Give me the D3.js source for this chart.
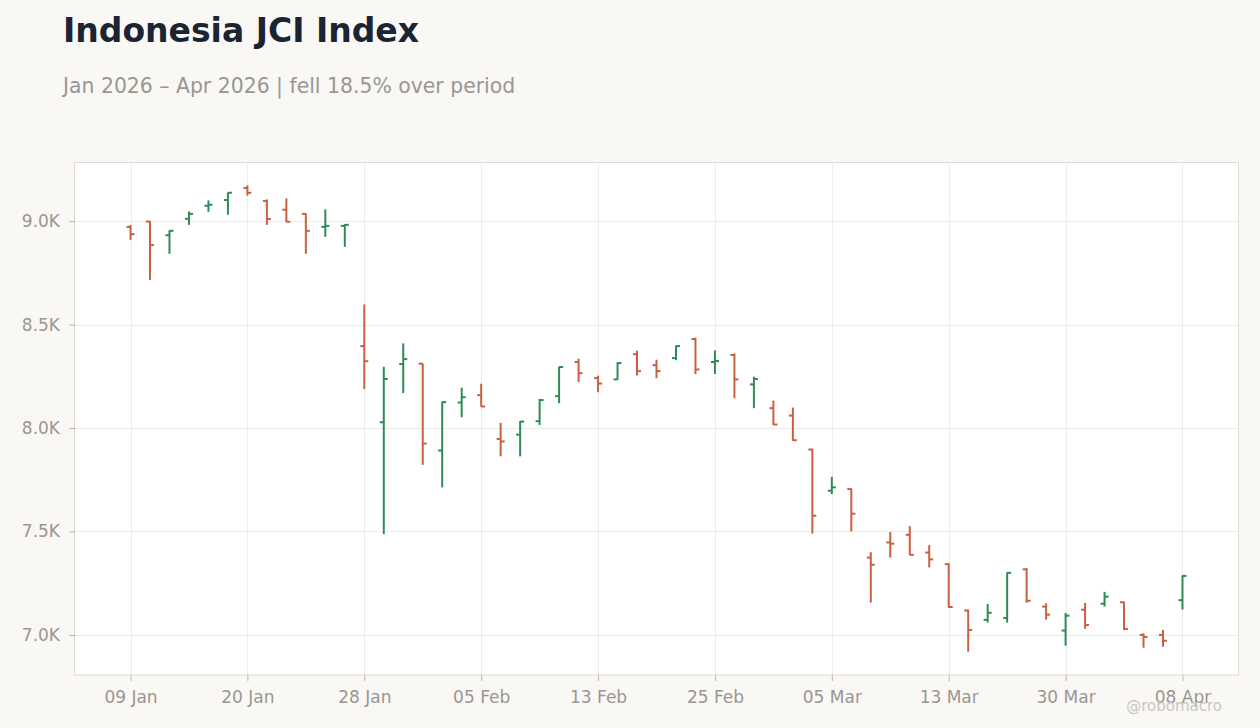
<!DOCTYPE html>
<meta charset="utf-8">
<style>
body {margin:0; background:#f9f8f5; font-family:'DejaVu Sans',sans-serif;}
.axis text {fill:#9a9691; font-size:17px; font-family:'DejaVu Sans',sans-serif;}
.axis line {stroke:#bdb6ae;}
.axis path {display:none;}
.grid line {stroke:#ececea; shape-rendering:crispEdges;}
.grid path {display:none;}
</style>
<script src='https://d3js.org/d3.v7.min.js'></script>
<svg id='chart'></svg>
<script>
var dates=['2026-01-09','2026-01-12','2026-01-13','2026-01-14','2026-01-15','2026-01-19','2026-01-20',
  '2026-01-21','2026-01-22','2026-01-23','2026-01-26','2026-01-27','2026-01-28','2026-01-29','2026-01-30',
  '2026-02-02','2026-02-03','2026-02-04','2026-02-05','2026-02-06','2026-02-09','2026-02-10','2026-02-11',
  '2026-02-12','2026-02-13','2026-02-18','2026-02-19','2026-02-20','2026-02-23','2026-02-24','2026-02-25',
  '2026-02-26','2026-02-27','2026-03-02','2026-03-03','2026-03-04','2026-03-05','2026-03-06','2026-03-09',
  '2026-03-10','2026-03-11','2026-03-12','2026-03-13','2026-03-16','2026-03-17','2026-03-18','2026-03-25',
  '2026-03-27','2026-03-30','2026-03-31','2026-04-01','2026-04-02','2026-04-06','2026-04-07','2026-04-08'];
var open =[8972,8998,8932,9011,9074,9102,9160,9097,9055,9035,8972,8977,8396,8028,8309,8311,7891,8123,8159,
  7947,7968,8033,8154,8319,8241,8235,8357,8304,8338,8430,8319,8353,8211,8096,8060,7896,7697,7705,7374,7447,
  7484,7398,7342,7118,7073,7082,7317,7137,7021,7122,7151,7158,7000,7000,7168];
var high =[8981,9000,8956,9047,9100,9139,9173,9105,9110,9037,9057,8985,8597,8296,8409,8311,8128,8195,8214,
  8025,8034,8141,8297,8335,8253,8318,8374,8330,8398,8437,8375,8361,8248,8133,8099,7900,7764,7708,7400,7497,
  7526,7434,7347,7122,7150,7302,7324,7153,7106,7155,7208,7161,7008,7024,7288];
var low  =[8909,8716,8842,8982,9045,9031,9123,8982,8995,8842,8924,8876,8188,7487,8169,7822,7713,8052,8102,
  7863,7863,8015,8120,8222,8173,8233,8254,8241,8328,8261,8261,8144,8096,8015,7938,7490,7681,7500,7156,7374,
  7385,7326,7131,6919,7060,7060,7156,7074,6948,7030,7137,7023,6938,6943,7122];
var close=[8937,8884,8953,9035,9079,9137,9137,9010,8997,8953,8977,8982,8323,8237,8333,7925,8125,8149,8104,
  7935,8031,8135,8295,8265,8215,8314,8275,8275,8396,8283,8324,8235,8237,8017,7941,7576,7713,7586,7339,7441,
  7387,7365,7135,7024,7107,7300,7165,7098,7093,7048,7185,7029,6990,6972,7285];
var title='Indonesia JCI Index', subtitle='Jan 2026 \u2013 Apr 2026 | fell 18.5% over period';

var W=1260,H=728;
var margin={top:162,right:22,bottom:53,left:75},
    width=W-margin.left-margin.right,
    height=H-margin.top-margin.bottom;
var up='#2e8b57', down='#c9603f';
var data=dates.map(function(d,i){return {d:d,o:open[i],h:high[i],l:low[i],c:close[i]};});
var parse=d3.timeParse('%Y-%m-%d'), fmt=d3.timeFormat('%d %b');

var lo=d3.min(low),hi=d3.max(high),pad=(hi-lo)*0.05;
var xScale=d3.scalePoint().domain(dates).range([0,width]).padding(2.85);
var yScale=d3.scaleLinear().domain([lo-pad,hi+pad]).range([height,0]);
var xTicks=dates.filter(function(d,i){return i%6===0;});

var svg0=d3.select('#chart').attr('width',W).attr('height',H);
svg0.append('text').attr('x',63).attr('y',42).style('font-size','33px').style('font-weight','bold')
    .style('fill','#1b2433').text(title);
svg0.append('text').attr('x',63).attr('y',93).style('font-size','20.4px')
    .style('fill','#9a9691').text(subtitle);
var svg=svg0.append('g').attr('transform','translate('+margin.left+','+margin.top+')');
svg.append('rect').attr('width',width).attr('height',height).attr('fill','#fff');
svg.append('g').attr('class','grid')
   .attr('transform','translate(0,'+height+')')
   .call(d3.axisBottom(xScale).tickValues(xTicks).tickSize(-height).tickFormat(''));
svg.append('g').attr('class','grid')
   .call(d3.axisLeft(yScale).ticks(5).tickSize(-width).tickFormat(''));
svg.append('rect').attr('x',-0.5).attr('y',0.5).attr('width',width+1).attr('height',height-0.5)
   .attr('fill','none').attr('stroke','#e0dbd3');
svg.append('g').attr('class','x axis').attr('transform','translate(0,'+height+')')
   .call(d3.axisBottom(xScale).tickValues(xTicks).tickSize(6).tickPadding(10)
   .tickFormat(function(d){return fmt(parse(d));}));
svg.append('g').attr('class','y axis')
   .call(d3.axisLeft(yScale).ticks(5).tickSize(6).tickPadding(9)
   .tickFormat(function(d){return d3.format('.1f')(d/1000)+'K';}));

var bars=svg.append('g').selectAll('g').data(data).enter().append('g')
   .attr('stroke',function(d){return d.c>=d.o?up:down;}).attr('stroke-width',2);
bars.append('line').attr('x1',function(d){return xScale(d.d);}).attr('x2',function(d){return xScale(d.d);})
   .attr('y1',function(d){return yScale(d.h);}).attr('y2',function(d){return yScale(d.l);});
bars.append('line').attr('x1',function(d){return xScale(d.d)-4;}).attr('x2',function(d){return xScale(d.d);})
   .attr('y1',function(d){return yScale(d.o);}).attr('y2',function(d){return yScale(d.o);});
bars.append('line').attr('x1',function(d){return xScale(d.d);}).attr('x2',function(d){return xScale(d.d)+4;})
   .attr('y1',function(d){return yScale(d.c);}).attr('y2',function(d){return yScale(d.c);});

svg0.append('text').attr('x',1222).attr('y',711).attr('text-anchor','end')
    .style('font-size','15px').style('fill','#c9c6c1').text('@robomacro');
</script>
